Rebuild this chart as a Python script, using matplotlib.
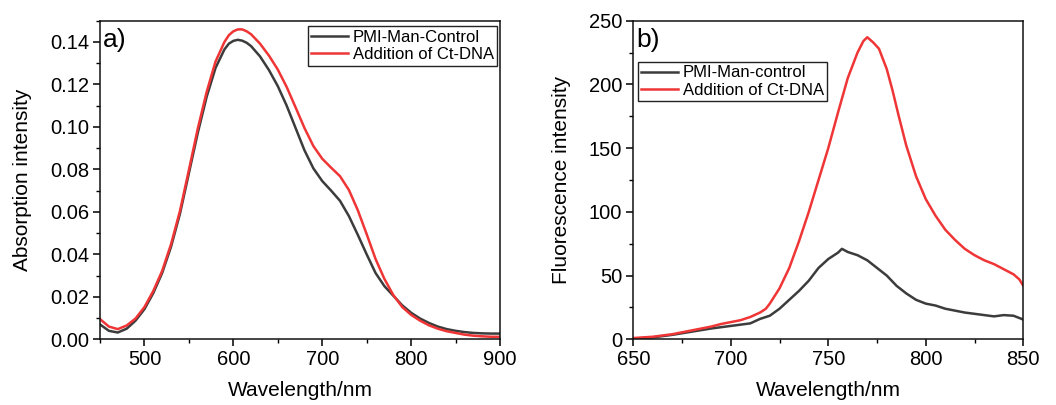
import matplotlib
matplotlib.use("Agg")
import matplotlib.pyplot as plt
from matplotlib.ticker import MultipleLocator

plt.rcParams['font.family'] = ['Liberation Sans', 'DejaVu Sans']

# ---- Panel a) absorption ----
abs_wl = [450, 460, 470, 480, 490, 500, 510, 520, 530, 540, 550, 560, 570, 580, 590,
          595, 600, 605, 610, 615, 620, 630, 640, 650, 660, 670, 680, 690, 700, 710,
          720, 730, 740, 750, 760, 770, 780, 790, 800, 810, 820, 830, 840, 850, 860,
          870, 880, 890, 900]
abs_control = [0.0070, 0.0040, 0.0032, 0.0050, 0.0088, 0.0142, 0.0218, 0.0313, 0.0437, 0.0592,
               0.0782, 0.0972, 0.1142, 0.1278, 0.1365, 0.1392, 0.1405, 0.1410, 0.1406, 0.1396,
               0.1380, 0.1332, 0.1268, 0.1192, 0.1100, 0.0995, 0.0890, 0.0805, 0.0745, 0.0700,
               0.0652, 0.0580, 0.0492, 0.0400, 0.0312, 0.0250, 0.0205, 0.0160, 0.0125, 0.0098,
               0.0077, 0.0060, 0.0048, 0.0040, 0.0034, 0.0030, 0.0028, 0.0027, 0.0027]
abs_dna = [0.0095, 0.0060, 0.0048, 0.0065, 0.0098, 0.0152, 0.0228, 0.0323, 0.0449, 0.0605,
           0.0797, 0.0992, 0.1165, 0.1308, 0.1400, 0.1432, 0.1450, 0.1459, 0.1459, 0.1450,
           0.1436, 0.1392, 0.1336, 0.1270, 0.1188, 0.1092, 0.0995, 0.0910, 0.0850, 0.0808,
           0.0768, 0.0703, 0.0608, 0.0495, 0.0378, 0.0284, 0.0208, 0.0152, 0.0115, 0.0088,
           0.0066, 0.0050, 0.0038, 0.0030, 0.0022, 0.0017, 0.0014, 0.0012, 0.0012]

# ---- Panel b) fluorescence ----
fl_wl_dna = [650, 655, 660, 665, 670, 675, 680, 685, 690, 695, 700, 705, 710, 715, 718,
             720, 725, 730, 735, 740, 745, 750, 755, 760, 765, 768, 770, 773, 776, 780,
             783, 786, 790, 795, 800, 805, 810, 815, 820, 825, 830, 835, 840, 845, 848, 850]
fl_dna = [1, 1.5, 2, 3, 4, 5.5, 7, 8.5, 10, 12, 13.5, 15, 17.5, 21, 24,
          28, 40, 56, 77, 100, 125, 150, 178, 205, 225, 234, 237, 233, 228, 212,
          195, 176, 152, 128, 110, 97, 86, 78, 71, 66, 62, 59, 55, 51, 47, 42]
fl_wl_ctrl = [650, 660, 670, 680, 690, 700, 710, 715, 720, 725, 730, 735, 740, 745, 750,
              755, 757, 760, 765, 770, 775, 780, 785, 790, 795, 800, 805, 810, 815, 820,
              825, 830, 835, 840, 845, 850]
fl_ctrl = [0.5, 1.5, 3.5, 6, 8.5, 10.5, 12.5, 16, 18.5, 24, 31, 38, 46, 56, 63,
           68, 71, 68.5, 66, 62, 56, 50, 42, 36, 31, 28, 26.5, 24, 22.5, 21,
           20, 19, 18, 19, 18.5, 15.5]

label_a = ["PMI-Man-Control", "Addition of Ct-DNA"]
label_b = ["PMI-Man-control", "Addition of Ct-DNA"]

c_black = '#3c3c3c'
c_red = '#ef3535'

fig = plt.figure(figsize=(10.56, 4.05), dpi=100)
ax1 = fig.add_axes([0.0947, 0.1622, 0.3788, 0.7867])
ax2 = fig.add_axes([0.5997, 0.1622, 0.3693, 0.7867])

ax1.plot(abs_wl, abs_control, color=c_black, lw=1.8, label=label_a[0])
ax1.plot(abs_wl, abs_dna, color=c_red, lw=1.8, label=label_a[1])
ax1.set_xlim(450, 900)
ax1.set_ylim(0, 0.15)
ax1.xaxis.set_major_locator(MultipleLocator(100))
ax1.xaxis.set_minor_locator(MultipleLocator(50))
ax1.yaxis.set_major_locator(MultipleLocator(0.02))
ax1.yaxis.set_minor_locator(MultipleLocator(0.01))
ax1.yaxis.set_major_formatter(plt.FuncFormatter(lambda v, p: f"{v:.2f}"))
ax1.set_xlabel("Wavelength/nm", fontsize=15, labelpad=8)
ax1.set_ylabel("Absorption intensity", fontsize=15, labelpad=13)
ax1.text(0.008, 0.94, "a)", transform=ax1.transAxes, fontsize=19, ha='left', va='center')
leg1 = ax1.legend(loc='upper right', bbox_to_anchor=(0.993, 0.982), borderaxespad=0,
                  fontsize=12, fancybox=False, edgecolor='#222222', framealpha=1,
                  handlelength=2.2, handletextpad=0.3, labelspacing=0.15, borderpad=0.2)
leg1.get_frame().set_linewidth(1.0)

ax2.plot(fl_wl_ctrl, fl_ctrl, color=c_black, lw=1.8, label=label_b[0])
ax2.plot(fl_wl_dna, fl_dna, color=c_red, lw=1.8, label=label_b[1])
ax2.set_xlim(650, 850)
ax2.set_ylim(0, 250)
ax2.xaxis.set_major_locator(MultipleLocator(50))
ax2.xaxis.set_minor_locator(MultipleLocator(25))
ax2.yaxis.set_major_locator(MultipleLocator(50))
ax2.yaxis.set_minor_locator(MultipleLocator(25))
ax2.set_xlabel("Wavelength/nm", fontsize=15, labelpad=8)
ax2.set_ylabel("Fluorescence intensity", fontsize=15, labelpad=13)
ax2.text(0.009, 0.94, "b)", transform=ax2.transAxes, fontsize=19, ha='left', va='center')
leg2 = ax2.legend(loc='upper left', bbox_to_anchor=(0.012, 0.870), borderaxespad=0,
                  fontsize=12, fancybox=False, edgecolor='#222222', framealpha=1,
                  handlelength=2.2, handletextpad=0.3, labelspacing=0.15, borderpad=0.2)
leg2.get_frame().set_linewidth(1.0)

for ax in (ax1, ax2):
    for s in ax.spines.values():
        s.set_linewidth(1.1)
        s.set_color('#111111')
    ax.tick_params(which='major', direction='out', length=5, width=1.1, labelsize=14.5, pad=3)
    ax.tick_params(which='minor', direction='out', length=3, width=1.0)

fig.savefig("out.png", dpi=100)
